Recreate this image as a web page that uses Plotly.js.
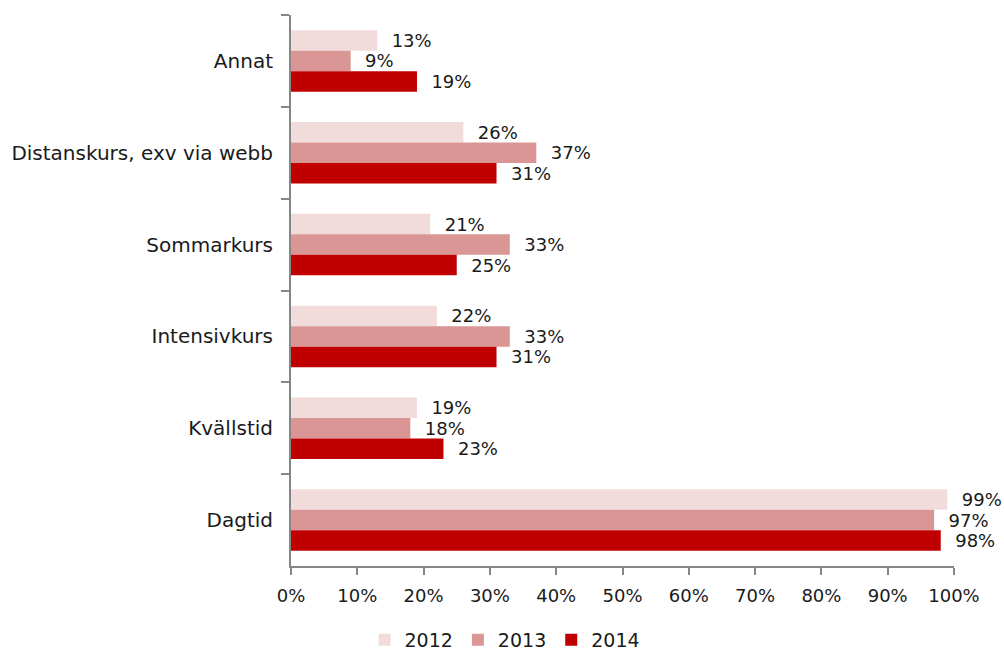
<!DOCTYPE html>
<html><head><meta charset="utf-8">
<script src="https://cdn.plot.ly/plotly-3.0.1.min.js"></script>
<style>html,body{margin:0;padding:0;background:#fff}</style>
</head><body>
<div id="chart" style="width:1004px;height:652px"></div>
<script>
const categories = ["Annat","Distanskurs, exv via webb","Sommarkurs","Intensivkurs","Kvällstid","Dagtid"];
const years = ["2012","2013","2014"];
const v2012 = [0.13,0.26,0.21,0.22,0.19,0.99];
const v2013 = [0.09,0.37,0.33,0.33,0.18,0.97];
const v2014 = [0.19,0.31,0.25,0.31,0.23,0.98];
const colors = ["#F2DCDB","#D99694","#C00000"];
const series = [v2012,v2013,v2014];
const NB = "\u00a0\u00a0";
const font = "'DejaVu Sans', sans-serif";
const traces = series.map((vals,i)=>({
  type:"bar", orientation:"h", name:years[i],
  x:vals, y:categories,
  marker:{color:colors[i]},
  text:vals.map(v=>NB+Math.round(v*100)+"%"),
  textposition:"outside", cliponaxis:false, constraintext:"none",
  textfont:{family:font,size:18,color:"#1a1a1a"},
  hoverinfo:"none"
}));
const layout = {
  width:1004, height:652,
  margin:{l:291,r:50,t:15,b:86,autoexpand:false},
  barmode:"group", bargap:0.33, bargroupgap:0,
  paper_bgcolor:"#fff", plot_bgcolor:"#fff",
  font:{family:font,size:18,color:"#1a1a1a"},
  xaxis:{range:[0,1], tickvals:[0,0.1,0.2,0.3,0.4,0.5,0.6,0.7,0.8,0.9,1],
    tickformat:".0%", showgrid:false, zeroline:false,
    showline:true, linecolor:"#868686", linewidth:2,
    ticks:"outside", ticklen:7, tickwidth:2, tickcolor:"#868686",
    ticklabelstandoff:5, fixedrange:true, automargin:false},
  yaxis:{type:"category", autorange:"reversed", tickson:"boundaries",
    showgrid:false, zeroline:false, showline:true, linecolor:"#868686", linewidth:2,
    ticks:"outside", ticklen:8, tickwidth:2, tickcolor:"#868686",
    tickfont:{family:font,size:20,color:"#1a1a1a"},
    ticklabelstandoff:12, fixedrange:true, automargin:false},
  showlegend:true,
  legend:{orientation:"h", x:0.503, xref:"container", xanchor:"center", y:12/652, yref:"container", yanchor:"middle",
    font:{family:font,size:19,color:"#1a1a1a"}, traceorder:"normal", itemwidth:30},
};
Plotly.newPlot("chart", traces, layout, {displayModeBar:false, staticPlot:true});
</script>
</body></html>
